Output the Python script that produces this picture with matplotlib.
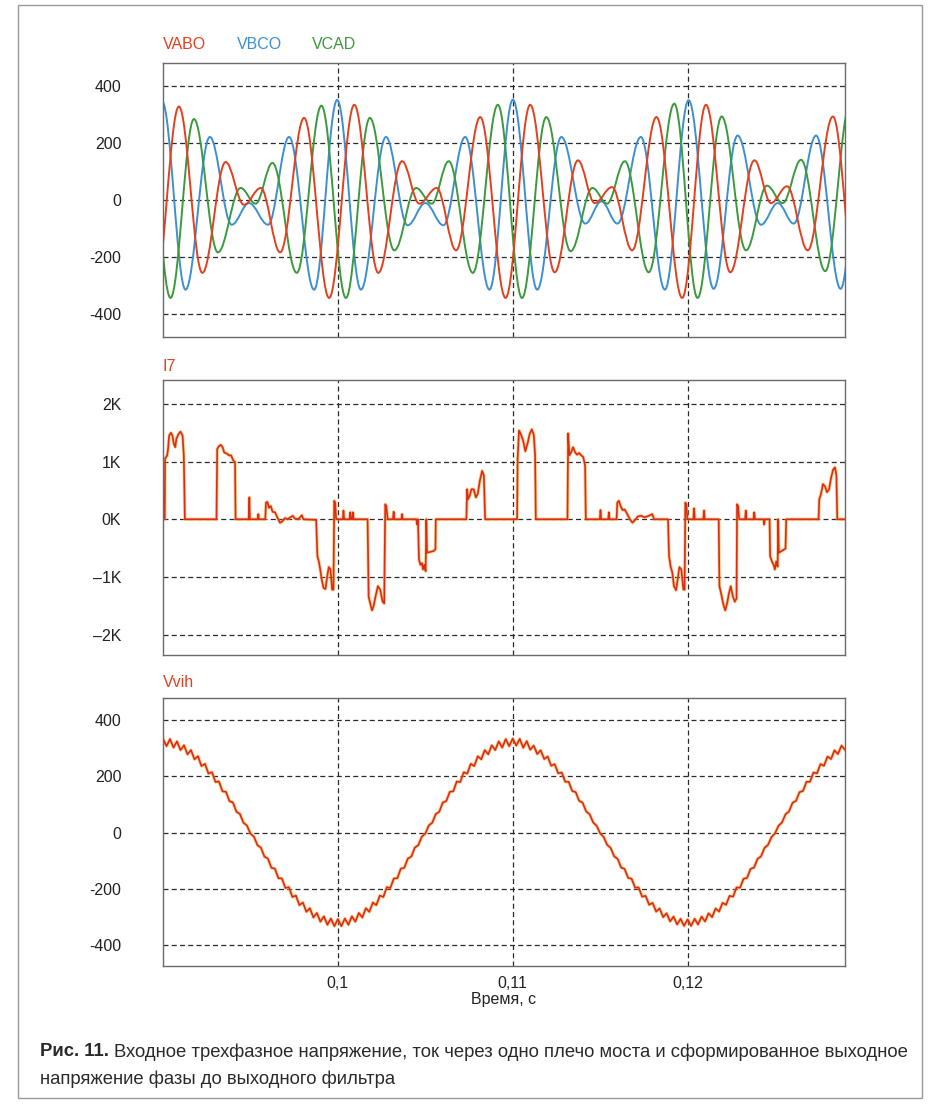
import numpy as np
import matplotlib
matplotlib.use('Agg')
import matplotlib.pyplot as plt
from matplotlib.path import Path
from matplotlib.patches import PathPatch, Rectangle

plt.rcParams['font.family'] = ['Liberation Sans', 'DejaVu Sans']
plt.rcParams['axes.unicode_minus'] = False

# --- top panel: extrema (time in ms, value) ---
vabo_t = [89.50, 90.91, 92.25, 93.58, 94.63, 95.59, 96.70, 98.07, 99.50, 100.94, 102.31, 103.67,
          104.66, 105.65, 106.76, 108.14, 109.59, 111.00, 112.40, 113.73, 114.69, 115.68, 116.83,
          118.22, 119.69, 121.05, 122.44, 123.82, 124.77, 125.69, 126.87, 128.31, 129.70]
vabo_v = [-345, 327, -257, 132, -18, 41, -185, 287, -345, 333, -257, 135,
          -14, 41, -178, 290, -345, 333, -255, 138, -12, 44, -178,
          290, -345, 333, -255, 138, -12, 47, -178, 292, -345]

vbco_t = [88.64, 89.95, 91.29, 92.68, 93.93, 94.92, 96.01, 97.21, 98.64, 99.96, 101.32, 102.75,
          103.99, 105.00, 106.04, 107.28, 108.67, 110.01, 111.40, 112.78, 114.15, 115.07, 115.99,
          117.33, 118.70, 120.06, 121.49, 122.86, 124.20, 125.16, 126.07, 127.35, 128.75, 130.10]
vbco_v = [-316, 345, -316, 220, -88, -12, -88, 220, -316, 350, -316, 220,
          -90, -12, -90, 220, -316, 351, -316, 220, -84, -6, -84,
          220, -316, 349, -313, 225, -88, -12, -84, 225, -313, 349]

vcad_t = [89.06, 90.43, 91.77, 93.14, 94.44, 95.30, 96.26, 97.65, 99.06, 100.46, 101.83, 103.23,
          104.47, 105.37, 106.34, 107.72, 109.15, 110.53, 111.92, 113.31, 114.56, 115.40, 116.41,
          117.78, 119.24, 120.57, 121.95, 123.34, 124.54, 125.44, 126.49, 127.87, 129.30]
vcad_v = [330, -345, 283, -185, 41, -14, 129, -257, 330, -345, 287, -178,
          41, -14, 135, -257, 333, -345, 290, -181, 41, -14, 135,
          -255, 337, -345, 292, -178, 49, -12, 140, -251, 337]

# --- middle panel: I7 (time in ms, current) ---
i7_t = [90.01, 90.10, 90.12, 90.24, 90.29, 90.35, 90.45, 90.54, 90.62, 90.70, 90.77, 90.89, 91.00, 91.12, 91.19, 91.25,
        93.06, 93.10, 93.20, 93.31, 93.41, 93.50, 93.64, 93.77, 93.89, 94.02, 94.12, 94.15,
        94.90, 94.94, 94.97, 95.41, 95.45, 95.49, 95.85, 95.89, 95.97, 96.06, 96.16, 96.27, 96.41, 96.54,
        96.69, 96.81, 96.98, 97.11, 97.27, 97.42, 97.55, 97.74, 97.94, 98.03, 98.76,
        98.83, 98.91, 98.99, 99.08, 99.18, 99.29, 99.39, 99.48, 99.58, 99.67, 99.75, 99.79, 99.85, 99.90,
        100.29, 100.32, 100.36, 100.67, 100.71, 100.74, 100.82, 100.86, 100.90,
        101.70, 101.76, 101.85, 101.95, 102.04, 102.16, 102.29, 102.42, 102.56, 102.65, 102.71, 102.77, 102.85,
        103.15, 103.19, 103.23, 103.63, 103.67, 103.70,
        104.49, 104.53, 104.58, 104.64, 104.72, 104.81, 104.87, 104.95, 105.02, 105.06, 105.10, 105.48, 105.58, 105.60,
        107.35, 107.39, 107.45, 107.54, 107.64, 107.77, 107.89, 108.00, 108.12, 108.25, 108.35, 108.42,
        110.25, 110.28, 110.36, 110.47, 110.59, 110.72, 110.86, 110.97, 111.09, 111.20, 111.28, 111.32,
        113.13, 113.17, 113.24, 113.34, 113.45, 113.57, 113.68, 113.80, 113.91, 114.03, 114.14, 114.18,
        114.98, 115.02, 115.06, 115.46, 115.50, 115.54, 115.94, 115.98, 116.07, 116.17, 116.28, 116.40,
        116.55, 116.70, 116.85, 117.03, 117.16, 117.35, 117.54, 117.79, 117.98, 118.08, 118.88,
        118.94, 119.03, 119.13, 119.22, 119.34, 119.43, 119.53, 119.64, 119.76, 119.83, 119.87, 119.93, 119.99,
        120.33, 120.37, 120.41, 120.90, 120.94, 120.98,
        121.78, 121.82, 121.92, 122.03, 122.15, 122.26, 122.36, 122.47, 122.59, 122.70, 122.80, 122.83, 122.89, 122.95,
        123.29, 123.33, 123.37, 123.77, 123.81, 123.85, 124.34, 124.38, 124.42,
        124.69, 124.72, 124.82, 124.92, 124.99, 125.07, 125.15, 125.18, 125.22, 125.53, 125.60, 125.64,
        127.49, 127.53, 127.63, 127.74, 127.86, 127.97, 128.09, 128.20, 128.32, 128.43, 128.51, 128.56, 128.97]
i7_v = [0, 0, 1050, 1110, 1220, 1450, 1500, 1450, 1310, 1250, 1400, 1480, 1520, 1450, 1110, 0,
        0, 1220, 1270, 1290, 1250, 1160, 1140, 1110, 1110, 1020, 990, 0,
        0, 380, 0, 0, 90, 0, 0, 290, 300, 200, 230, 130, 120, 30,
        -60, -40, 20, 0, 30, 60, 10, 0, 70, 0, -10,
        -640, -730, -870, -1050, -1190, -1210, -990, -830, -870, -1220, -1220, 320, 290, 0,
        0, 150, 0, 0, 120, 0, 0, 120, 0,
        0, -1340, -1460, -1580, -1510, -1330, -1160, -1220, -1430, -1460, 260, 230, 0,
        0, 130, 0, 0, 90, 0,
        0, -90, 0, -700, -790, -760, -870, -790, -900, 0, -580, -550, -520, 0,
        0, 520, 350, 410, 520, 520, 380, 440, 670, 840, 760, 0,
        0, 1050, 1540, 1470, 1370, 1180, 1330, 1480, 1560, 1470, 1110, 0,
        0, 1490, 1110, 1160, 1250, 1160, 1120, 1150, 1110, 1080, 930, 0,
        0, 160, 0, 0, 120, 0, 0, 290, 320, 230, 160, 170,
        90, 0, -60, 0, 50, 60, 35, 60, 90, 0, 0,
        -640, -820, -930, -1160, -1230, -1050, -830, -870, -1220, -1220, 290, 260, 0,
        0, 190, 0, 0, 150, 0,
        0, -1160, -1290, -1460, -1580, -1460, -1290, -1160, -1340, -1430, -1370, 260, 230, 0,
        0, 150, 0, 0, 120, 0, 0, -90, 0,
        0, -640, -730, -790, -870, -730, -820, 0, -580, -520, -510, 0,
        0, 350, 440, 610, 570, 470, 520, 710, 860, 900, 760, 0, 0]

# --- bottom panel: Vvih, read every 0.2 ms from 0.09 s ---
vvih = [335, 308, 333, 303, 325, 294, 311, 279, 294, 261, 272, 237, 245, 210, 215, 180, 182,
        147, 145, 112, 107, 74, 66, 35, 25, -4, -15, -45, -54, -86, -93, -126, -129, -163,
        -164, -198, -195, -230, -225, -259, -250, -283, -270, -303, -287, -318, -299, -329, -307, -334, -309,
        -334, -307, -329, -299, -318, -287, -303, -270, -283, -250, -259, -225, -230, -195, -198, -164,
        -163, -129, -126, -93, -86, -54, -45, -15, -4, 25, 35, 66, 74, 107, 112, 145, 147, 182, 180,
        215, 210, 245, 237, 272, 261, 294, 279, 311, 294, 325, 303, 333, 308, 335,
        310, 334, 302, 326, 295, 310, 280, 293, 262, 271, 238, 244, 211, 214, 181, 181, 148,
        144, 113, 106, 75, 65, 36, 24, -3, -16, -44, -55, -85, -94, -125, -130, -162, -165,
        -197, -196, -229, -226, -258, -251, -282, -271, -302, -288, -317, -300, -328, -308, -333, -310,
        -333, -308, -328, -300, -317, -288, -302, -271, -282, -251, -258, -226, -229, -196, -197,
        -165, -162, -130, -125, -94, -85, -55, -44, -16, -3, 24, 36, 65, 75, 106, 113, 144, 148,
        181, 181, 214, 211, 244, 238, 271, 262, 293, 280, 310, 295]

x_ticks = [0.1, 0.11, 0.12]
x_ticklabels = ['0,1', '0,11', '0,12']
v_ticks = [400, 200, 0, -200, -400]
v_ticklabels = ['400', '200', '0', '-200', '-400']
i_ticks = [2000, 1000, 0, -1000, -2000]
i_ticklabels = ['2K', '1K', '0K', '\u20131K', '\u20132K']

RED = '#e2401e'
BLUE = '#3d8fd0'
GREEN = '#3a9a3c'
TXT = '#222222'


def smooth_path(t_ms, vals, k=0.3634):
    # smooth curve through the read extrema (flat tangent at each extremum)
    t = np.asarray(t_ms) / 1000.0
    verts = [(t[0], vals[0])]
    codes = [Path.MOVETO]
    for i in range(len(t) - 1):
        dt = t[i + 1] - t[i]
        verts += [(t[i] + k * dt, vals[i]), (t[i + 1] - k * dt, vals[i + 1]), (t[i + 1], vals[i + 1])]
        codes += [Path.CURVE4] * 3
    return Path(verts, codes)


def style(ax, yticks, ylabels, ylim, show_x=False):
    ax.set_xlim(0.09, 0.129)
    ax.set_ylim(*ylim)
    ax.set_yticks(yticks)
    ax.set_yticklabels(ylabels)
    ax.set_xticks(x_ticks)
    if show_x:
        ax.set_xticklabels(x_ticklabels)
    else:
        ax.set_xticklabels([])
    ax.tick_params(length=0, labelsize=11.5, colors=TXT)
    ax.tick_params(axis='y', pad=30)
    ax.tick_params(axis='x', pad=7)
    ax.grid(True, color='#2a2a2a', linestyle=(0, (4, 2.6)), linewidth=0.9)
    ax.set_axisbelow(True)
    for s in ax.spines.values():
        s.set_color('#6a6a6a')
        s.set_linewidth(1.0)


fig = plt.figure(figsize=(9.4, 11.08), dpi=100)
fig.patch.set_facecolor('white')

ax1 = fig.add_axes([0.1734, 0.6959, 0.7255, 0.2473])
ax2 = fig.add_axes([0.1734, 0.4088, 0.7255, 0.2482])
ax3 = fig.add_axes([0.1734, 0.1282, 0.7255, 0.2419])

style(ax1, v_ticks, v_ticklabels, (-482, 480))
style(ax2, i_ticks, i_ticklabels, (-2355, 2415))
style(ax3, v_ticks, v_ticklabels, (-476, 480), show_x=True)

for t_ms, vals, col in [(vbco_t, vbco_v, BLUE), (vcad_t, vcad_v, GREEN), (vabo_t, vabo_v, RED)]:
    ax1.add_patch(PathPatch(smooth_path(t_ms, vals), fill=False, edgecolor=col, lw=1.4))

t_i7 = np.array(i7_t) / 1000.0
ax2.plot(t_i7, i7_v, color='#f6a53a', lw=2.4, alpha=0.55)
ax2.plot(t_i7, i7_v, color='#dd2c12', lw=1.2)

t_v = np.linspace(0.09, 0.129, len(vvih))
ax3.plot(t_v, vvih, color='#f6a53a', lw=2.4, alpha=0.55)
ax3.plot(t_v, vvih, color='#dd2c12', lw=1.2)

ax3.set_xlabel('Время, с', fontsize=11.5, color=TXT, labelpad=1)

# series names above the panels
fig.text(0.1734, 0.9594, 'VABO', color=RED, fontsize=11.5, va='center')
fig.text(0.252, 0.9594, 'VBCO', color=BLUE, fontsize=11.5, va='center')
fig.text(0.332, 0.9594, 'VCAD', color=GREEN, fontsize=11.5, va='center')
fig.text(0.1734, 0.6688, 'I7', color=RED, fontsize=11.5, va='center')
fig.text(0.1734, 0.3836, 'Vvih', color=RED, fontsize=11.5, va='center')

# page frame
fig.add_artist(Rectangle((18 / 940, 1 - 1098 / 1108), 904 / 940, 1093 / 1108, transform=fig.transFigure,
                         fill=False, edgecolor='#9a9a9a', lw=1.0))

# caption
cap_y1 = 1 - 1052 / 1108
cap_y2 = 1 - 1079 / 1108
b = fig.text(40 / 940, cap_y1, 'Рис. 11.', fontsize=13.3, fontweight='bold', color='#2a2a2a', va='center')
fig.canvas.draw()
bb = b.get_window_extent(renderer=fig.canvas.get_renderer())
fig.text(bb.x1 / 940 + 0.005, cap_y1,
         'Входное трехфазное напряжение, ток через одно плечо моста и сформированное выходное',
         fontsize=13.3, color='#2a2a2a', va='center')
fig.text(40 / 940, cap_y2, 'напряжение фазы до выходного фильтра', fontsize=13.3, color='#2a2a2a', va='center')

fig.savefig('out.png', dpi=100)
